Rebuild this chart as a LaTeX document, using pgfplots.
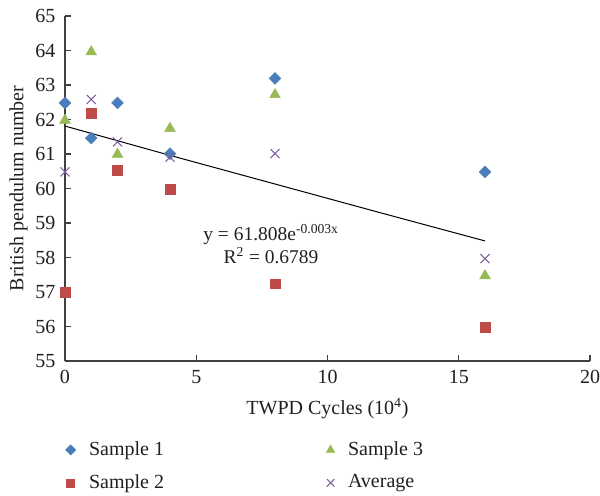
\documentclass[border=0pt]{standalone}
\usepackage{fontspec}
\setmainfont{Liberation Serif}
\usepackage{pgfplots}
\pgfplotsset{compat=1.18}
\definecolor{cS1}{HTML}{4A7EBB}
\definecolor{cS2}{HTML}{BE4B48}
\definecolor{cS3}{HTML}{98B954}
\definecolor{cAv}{HTML}{7D60A0}
\definecolor{axc}{HTML}{404040}
\definecolor{txc}{HTML}{231F20}
\begin{document}
\fontsize{15pt}{18pt}\selectfont
\begin{tikzpicture}
\useasboundingbox (-48.75pt,-101.25pt) rectangle (401.25pt,270.75pt);
\begin{axis}[
  scale only axis,
  width=393.75pt, height=258.75pt,
  xmin=0, xmax=20, ymin=55, ymax=65,
  xtick={0,5,10,15,20}, ytick={55,56,...,65},
  axis x line=bottom, axis y line=left,
  axis line style={axc, line width=0.9pt, -},
  tick style={axc, line width=0.9pt},
  major tick length=4.5pt,
  tick align=inside,
  /pgf/number format/assume math mode=true,
  ticklabel style={font=\fontsize{15pt}{18pt}\selectfont, text=txc},
  xticklabel style={yshift=-2pt},
  yticklabel style={xshift=-2pt},
  xlabel={TWPD Cycles (10\textsuperscript{4})},
  ylabel={British pendulum number},
  label style={font=\fontsize{15pt}{18pt}\selectfont, text=txc},
  xlabel style={at={(axis description cs:0.5,-0.137)}, anchor=center},
  ylabel style={at={(axis description cs:-0.0885,0.5)}, anchor=center},
  legend columns=2,
  legend cell align=left,
  legend style={draw=none, fill=none, at={(axis description cs:-0.007,-0.217)}, anchor=north west,
    font=\fontsize{15pt}{18pt}\selectfont, text=txc, row sep=8pt},
]
\addplot[only marks, mark=diamond*, mark size=4.4pt, cS1, mark options={fill=cS1, draw=cS1, xscale=1.333},
  legend image code/.code={\draw[mark=diamond*, mark size=3.8pt, mark options={fill=cS1, draw=cS1, xscale=1.333}] plot coordinates {(0.3cm,0cm)};}]
  coordinates {(0,62.48) (1,61.46) (2,62.48) (4,61.01) (8,63.19) (16,60.48)};
\addlegendentry{\hspace{8pt}\makebox[176pt][l]{Sample 1}}
\addplot[only marks, mark=triangle*, mark size=4.6pt, cS3, mark options={fill=cS3, draw=cS3},
  legend image code/.code={\draw[mark=triangle*, mark size=3.6pt, mark options={fill=cS3, draw=cS3}] plot coordinates {(0.3cm,0cm)};}]
  coordinates {(0,61.98) (1,63.96) (2,60.99) (4,61.74) (8,62.72) (16,57.47)};
\addlegendentry{\hspace{8pt}Sample 3}
\addplot[only marks, mark=square*, mark size=3.7pt, cS2, mark options={fill=cS2, draw=cS2},
  legend image code/.code={\draw[mark=square*, mark size=3.0pt, mark options={fill=cS2, draw=cS2}] plot coordinates {(0.3cm,0cm)};}]
  coordinates {(0,57.0) (1,62.17) (2,60.53) (4,59.98) (8,57.24) (16,55.98)};
\addlegendentry{\hspace{8pt}\makebox[176pt][l]{Sample 2}}
\addplot[only marks, mark=x, mark size=4.8pt, cAv, mark options={draw=cAv, line width=0.8pt},
  legend image code/.code={\draw[mark=x, mark size=4.0pt, mark options={draw=cAv, line width=0.8pt}] plot coordinates {(0.3cm,0cm)};}]
  coordinates {(0,60.48) (1,62.58) (2,61.35) (4,60.91) (8,61.01) (16,57.97)};
\addlegendentry{\hspace{8pt}Average}
\addplot[black, line width=0.75pt, forget plot]
  coordinates {(0,61.81) (4,60.96) (8,60.13) (12,59.30) (16,58.48)};
\node[align=center, text=txc, font=\fontsize{14.6pt}{17.5pt}\selectfont] at (axis cs:7.85,58.38)
  {y = 61.808e\textsuperscript{-0.003x}\\R\textsuperscript{2} = 0.6789};
\end{axis}
\end{tikzpicture}
\end{document}
